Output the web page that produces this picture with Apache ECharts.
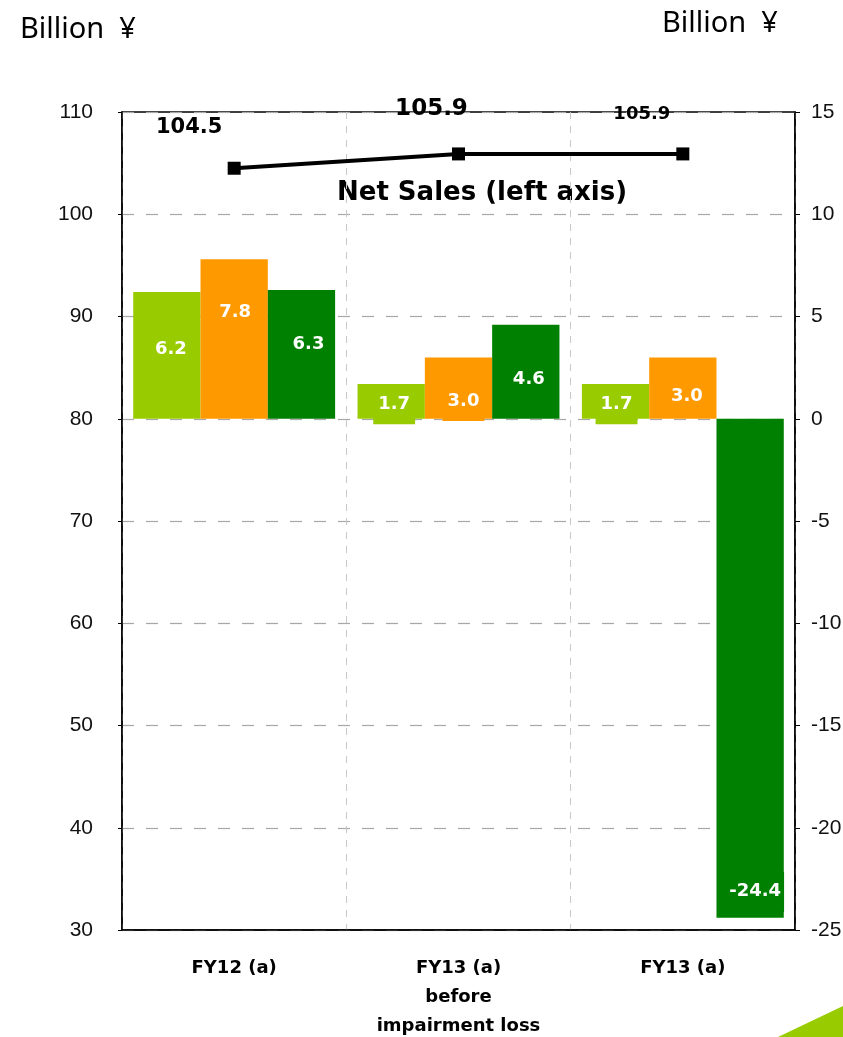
<!DOCTYPE html>
<html>
<head>
<meta charset="utf-8">
<script src="https://cdn.jsdelivr.net/npm/echarts@6/dist/echarts.min.js"></script>
<style>
  html, body { margin: 0; padding: 0; background: #fff; }
  #chart { width: 843px; height: 1037px; }
</style>
</head>
<body>
<div id="chart"></div>
<script>
// Categories and values (billion yen)
const categories = ['FY12 (a)', 'FY13 (a)\nbefore\nimpairment loss', 'FY13 (a)'];
const netSales = [104.5, 105.9, 105.9];          // left axis
const profitA = [6.2, 1.7, 1.7];                  // right axis, light green
const profitB = [7.8, 3.0, 3.0];                  // right axis, orange
const profitC = [6.3, 4.6, -24.4];                // right axis, dark green
const leftTicks = { min: 30, max: 110, interval: 10 };
const rightTicks = { min: -25, max: 15, interval: 5 };

// Label nudges (px) for the value labels inside the bars
const nudgeA = [[4, -6], [3, 3], [1, 3]];
const nudgeB = [[1, -27], [5, 13], [4, 8]];
const nudgeC = [[7, -10], [3, 8], [5, 0]];

// Label placement for the net sales values
const salesLabelStyle = [
  { offset: [-45, -19], fontSize: 21 },
  { offset: [-27, -22], fontSize: 23 },
  { offset: [-41, -19], fontSize: 18 }
];

const colors = { light: '#99CC00', orange: '#FF9900', dark: '#008000' };
const tickFont = 'Liberation Sans, Arial, sans-serif';
const boldFont = 'DejaVu Sans, Verdana, sans-serif';

function barLabel(color) {
  return {
    show: true,
    position: 'inside',
    color: '#fff',
    fontFamily: boldFont,
    fontWeight: 'bold',
    fontSize: 18,
    backgroundColor: color,
    padding: [11, 5],
    formatter: p => p.value.toFixed(1)
  };
}

function barSeries(values, color, nudge) {
  return {
    type: 'bar',
    yAxisIndex: 1,
    barGap: 0,
    barCategoryGap: '10%',
    itemStyle: { color: color },
    label: barLabel(color),
    data: values.map((v, i) => v < 0
      ? { value: v, label: { position: 'insideBottom', distance: 6, padding: [11, 3], offset: nudge[i] } }
      : { value: v, label: { offset: nudge[i] } })
  };
}

const chart = echarts.init(document.getElementById('chart'), null, { renderer: 'canvas' });

chart.setOption({
  animation: false,
  backgroundColor: '#fff',
  grid: {
    left: 122, right: 48, top: 112, bottom: 107,
    outerBoundsMode: 'none',
    containLabel: false,
    show: true, borderColor: '#000', borderWidth: 1.5
  },
  xAxis: {
    type: 'category',
    data: categories,
    boundaryGap: true,
    axisLine: { onZero: false, lineStyle: { color: '#000', width: 1.5 } },
    axisTick: { show: false },
    splitLine: { show: true, lineStyle: { color: '#c8c8c8', type: [7, 7], width: 1 } },
    axisLabel: {
      color: '#000', fontFamily: boldFont, fontWeight: 'bold',
      fontSize: 18, lineHeight: 29, margin: 24
    }
  },
  yAxis: [
    {
      type: 'value',
      min: leftTicks.min, max: leftTicks.max, interval: leftTicks.interval,
      axisLine: { show: true, lineStyle: { color: '#000', width: 1.5 } },
      axisTick: { show: true, length: 4, lineStyle: { color: '#000' } },
      splitLine: { show: true, lineStyle: { color: '#a8a8a8', type: [12, 12], width: 1.2 } },
      axisLabel: { color: '#111', fontFamily: tickFont, fontSize: 21, margin: 29 }
    },
    {
      type: 'value',
      min: rightTicks.min, max: rightTicks.max, interval: rightTicks.interval,
      position: 'right',
      axisLine: { show: true, lineStyle: { color: '#000', width: 1.5 } },
      axisTick: { show: true, length: 5, lineStyle: { color: '#000' } },
      splitLine: { show: false },
      axisLabel: { color: '#111', fontFamily: tickFont, fontSize: 21, margin: 16 }
    }
  ],
  series: [
    barSeries(profitA, colors.light, nudgeA),
    barSeries(profitB, colors.orange, nudgeB),
    barSeries(profitC, colors.dark, nudgeC),
    {
      type: 'line',
      yAxisIndex: 0,
      z: 5,
      symbol: 'rect',
      symbolSize: 13,
      lineStyle: { color: '#000', width: 4 },
      itemStyle: { color: '#000' },
      data: netSales.map((v, i) => ({
        value: v,
        label: {
          show: true,
          position: 'top',
          offset: salesLabelStyle[i].offset,
          fontSize: salesLabelStyle[i].fontSize,
          fontFamily: boldFont,
          fontWeight: 'bold',
          color: '#000',
          formatter: p => p.value.toFixed(1)
        }
      }))
    }
  ],
  graphic: [
    {
      type: 'text', left: 20, top: 15,
      style: { text: 'Billion  ¥', font: '29px "Noto Sans", sans-serif', fill: '#000' }
    },
    {
      type: 'text', left: 662, top: 9,
      style: { text: 'Billion  ¥', font: '29px "Noto Sans", sans-serif', fill: '#000' }
    },
    {
      type: 'text', left: 337, top: 180,
      style: { text: 'Net Sales (left axis)', font: 'bold 26px "DejaVu Sans", sans-serif', fill: '#000' }
    },
    {
      type: 'polygon',
      shape: { points: [[778, 1037], [843, 1006], [843, 1037]] },
      style: { fill: colors.light }
    }
  ]
});
</script>
</body>
</html>
